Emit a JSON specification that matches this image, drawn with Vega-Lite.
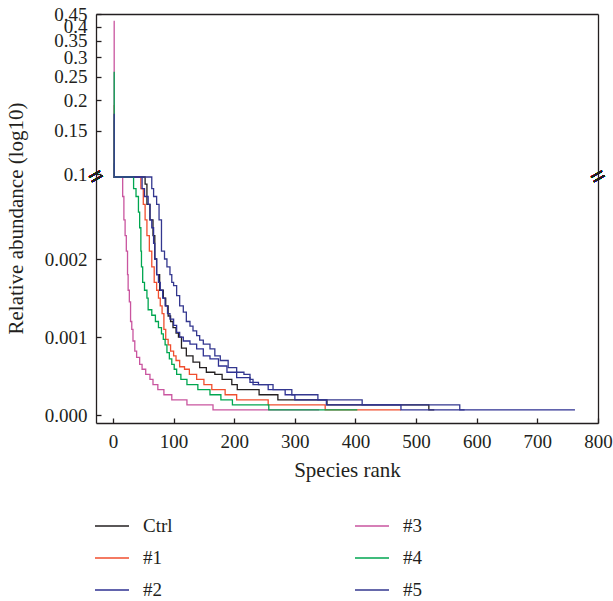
{
  "$schema": "https://vega.github.io/schema/vega-lite/v6.json",
  "background": "white",
  "padding": {"left": 5, "top": 5, "right": 10, "bottom": 5},
  "spacing": 0,
  "bounds": "flush",
  "config": {
    "font": "Liberation Serif",
    "view": {"stroke": null},
    "axis": {"domainColor": "#231f20", "domainWidth": 1.3, "tickColor": "#231f20", "tickWidth": 1.3, "tickSize": -5, "labelPadding": 14, "labelFontSize": 19, "labelColor": "#231f20", "titleFontSize": 21, "titleFontWeight": "normal", "titleColor": "#231f20", "grid": false, "labelFlush": false, "labelOverlap": false},
    "legend": {"orient": "none", "legendX": -2, "legendY": 494, "columns": 2, "columnPadding": 179, "rowPadding": 4, "symbolType": "stroke", "symbolSize": 1156, "symbolStrokeWidth": 1.5, "labelFont": "Liberation Serif", "labelFontSize": 19, "labelColor": "#231f20", "labelOffset": 13, "title": null}
  },
  "datasets": {
    "ra": [
      {"sample":"Ctrl","rank":1,"abundance":0.165},{"sample":"Ctrl","rank":2,"abundance":0.07},{"sample":"Ctrl","rank":5,"abundance":0.03},{"sample":"Ctrl","rank":10,"abundance":0.014},{"sample":"Ctrl","rank":20,"abundance":0.007},{"sample":"Ctrl","rank":35,"abundance":0.0045},{"sample":"Ctrl","rank":53,"abundance":0.00296},{"sample":"Ctrl","rank":56,"abundance":0.0027},{"sample":"Ctrl","rank":61,"abundance":0.0025},{"sample":"Ctrl","rank":66,"abundance":0.0023},{"sample":"Ctrl","rank":69,"abundance":0.002},{"sample":"Ctrl","rank":72,"abundance":0.0018},{"sample":"Ctrl","rank":77,"abundance":0.0016},{"sample":"Ctrl","rank":83,"abundance":0.0015},{"sample":"Ctrl","rank":87,"abundance":0.0014},{"sample":"Ctrl","rank":91,"abundance":0.00127},{"sample":"Ctrl","rank":95,"abundance":0.0012},{"sample":"Ctrl","rank":99,"abundance":0.00112},{"sample":"Ctrl","rank":104,"abundance":0.00105},{"sample":"Ctrl","rank":108,"abundance":0.001},{"sample":"Ctrl","rank":113,"abundance":0.00086},{"sample":"Ctrl","rank":121,"abundance":0.00076},{"sample":"Ctrl","rank":132,"abundance":0.00068},{"sample":"Ctrl","rank":143,"abundance":0.00061},{"sample":"Ctrl","rank":154,"abundance":0.00055},{"sample":"Ctrl","rank":168,"abundance":0.000523},{"sample":"Ctrl","rank":180,"abundance":0.000458},{"sample":"Ctrl","rank":196,"abundance":0.000392},{"sample":"Ctrl","rank":205,"abundance":0.000327},{"sample":"Ctrl","rank":241,"abundance":0.000262},{"sample":"Ctrl","rank":272,"abundance":0.000197},{"sample":"Ctrl","rank":353,"abundance":0.000131},{"sample":"Ctrl","rank":521,"abundance":0.000068},{"sample":"Ctrl","rank":530,"abundance":0.000068},
      {"sample":"#1","rank":1,"abundance":0.19},{"sample":"#1","rank":2,"abundance":0.08},{"sample":"#1","rank":5,"abundance":0.03},{"sample":"#1","rank":10,"abundance":0.015},{"sample":"#1","rank":20,"abundance":0.007},{"sample":"#1","rank":35,"abundance":0.004},{"sample":"#1","rank":46,"abundance":0.0029},{"sample":"#1","rank":50,"abundance":0.0027},{"sample":"#1","rank":53,"abundance":0.0025},{"sample":"#1","rank":56,"abundance":0.0023},{"sample":"#1","rank":60,"abundance":0.0021},{"sample":"#1","rank":64,"abundance":0.0019},{"sample":"#1","rank":68,"abundance":0.0017},{"sample":"#1","rank":72,"abundance":0.0016},{"sample":"#1","rank":75,"abundance":0.0015},{"sample":"#1","rank":78,"abundance":0.0014},{"sample":"#1","rank":81,"abundance":0.0013},{"sample":"#1","rank":84,"abundance":0.0011},{"sample":"#1","rank":87,"abundance":0.00097},{"sample":"#1","rank":91,"abundance":0.0009},{"sample":"#1","rank":95,"abundance":0.00082},{"sample":"#1","rank":100,"abundance":0.00076},{"sample":"#1","rank":104,"abundance":0.0007},{"sample":"#1","rank":110,"abundance":0.00062},{"sample":"#1","rank":118,"abundance":0.000588},{"sample":"#1","rank":126,"abundance":0.000523},{"sample":"#1","rank":138,"abundance":0.000458},{"sample":"#1","rank":150,"abundance":0.000392},{"sample":"#1","rank":163,"abundance":0.000327},{"sample":"#1","rank":185,"abundance":0.000262},{"sample":"#1","rank":204,"abundance":0.000197},{"sample":"#1","rank":256,"abundance":0.000131},{"sample":"#1","rank":350,"abundance":0.000068},{"sample":"#1","rank":475,"abundance":0.000068},
      {"sample":"#2","rank":1,"abundance":0.11},{"sample":"#2","rank":2,"abundance":0.08},{"sample":"#2","rank":5,"abundance":0.035},{"sample":"#2","rank":10,"abundance":0.015},{"sample":"#2","rank":20,"abundance":0.007},{"sample":"#2","rank":35,"abundance":0.0045},{"sample":"#2","rank":48,"abundance":0.0029},{"sample":"#2","rank":52,"abundance":0.0028},{"sample":"#2","rank":58,"abundance":0.0027},{"sample":"#2","rank":61,"abundance":0.0025},{"sample":"#2","rank":64,"abundance":0.0024},{"sample":"#2","rank":67,"abundance":0.0022},{"sample":"#2","rank":69,"abundance":0.002},{"sample":"#2","rank":72,"abundance":0.0018},{"sample":"#2","rank":75,"abundance":0.0017},{"sample":"#2","rank":78,"abundance":0.0016},{"sample":"#2","rank":82,"abundance":0.0015},{"sample":"#2","rank":86,"abundance":0.0014},{"sample":"#2","rank":90,"abundance":0.0013},{"sample":"#2","rank":94,"abundance":0.00123},{"sample":"#2","rank":100,"abundance":0.00115},{"sample":"#2","rank":105,"abundance":0.00106},{"sample":"#2","rank":110,"abundance":0.001},{"sample":"#2","rank":116,"abundance":0.00095},{"sample":"#2","rank":127,"abundance":0.00091},{"sample":"#2","rank":138,"abundance":0.00085},{"sample":"#2","rank":149,"abundance":0.00076},{"sample":"#2","rank":160,"abundance":0.00072},{"sample":"#2","rank":174,"abundance":0.00063},{"sample":"#2","rank":188,"abundance":0.00055},{"sample":"#2","rank":204,"abundance":0.00048},{"sample":"#2","rank":226,"abundance":0.00042},{"sample":"#2","rank":240,"abundance":0.000392},{"sample":"#2","rank":256,"abundance":0.000327},{"sample":"#2","rank":284,"abundance":0.000262},{"sample":"#2","rank":300,"abundance":0.000197},{"sample":"#2","rank":352,"abundance":0.000131},{"sample":"#2","rank":475,"abundance":0.000068},{"sample":"#2","rank":762,"abundance":0.000068},
      {"sample":"#3","rank":1,"abundance":0.42},{"sample":"#3","rank":2,"abundance":0.06},{"sample":"#3","rank":4,"abundance":0.025},{"sample":"#3","rank":8,"abundance":0.009},{"sample":"#3","rank":12,"abundance":0.0045},{"sample":"#3","rank":16,"abundance":0.0028},{"sample":"#3","rank":18,"abundance":0.0025},{"sample":"#3","rank":20,"abundance":0.0023},{"sample":"#3","rank":22,"abundance":0.0021},{"sample":"#3","rank":24,"abundance":0.0018},{"sample":"#3","rank":25,"abundance":0.0016},{"sample":"#3","rank":27,"abundance":0.00145},{"sample":"#3","rank":29,"abundance":0.0012},{"sample":"#3","rank":31,"abundance":0.0011},{"sample":"#3","rank":33,"abundance":0.00095},{"sample":"#3","rank":36,"abundance":0.00082},{"sample":"#3","rank":39,"abundance":0.00074},{"sample":"#3","rank":44,"abundance":0.00065},{"sample":"#3","rank":48,"abundance":0.000588},{"sample":"#3","rank":54,"abundance":0.000523},{"sample":"#3","rank":61,"abundance":0.000458},{"sample":"#3","rank":66,"abundance":0.000392},{"sample":"#3","rank":74,"abundance":0.000327},{"sample":"#3","rank":84,"abundance":0.000262},{"sample":"#3","rank":97,"abundance":0.000197},{"sample":"#3","rank":122,"abundance":0.000131},{"sample":"#3","rank":165,"abundance":0.000068},{"sample":"#3","rank":340,"abundance":0.000068},
      {"sample":"#4","rank":1,"abundance":0.26},{"sample":"#4","rank":2,"abundance":0.07},{"sample":"#4","rank":5,"abundance":0.03},{"sample":"#4","rank":10,"abundance":0.012},{"sample":"#4","rank":20,"abundance":0.006},{"sample":"#4","rank":28,"abundance":0.0042},{"sample":"#4","rank":34,"abundance":0.0029},{"sample":"#4","rank":38,"abundance":0.0028},{"sample":"#4","rank":42,"abundance":0.0026},{"sample":"#4","rank":44,"abundance":0.0024},{"sample":"#4","rank":46,"abundance":0.0021},{"sample":"#4","rank":47,"abundance":0.0019},{"sample":"#4","rank":49,"abundance":0.0017},{"sample":"#4","rank":52,"abundance":0.0016},{"sample":"#4","rank":56,"abundance":0.0015},{"sample":"#4","rank":58,"abundance":0.00135},{"sample":"#4","rank":64,"abundance":0.00128},{"sample":"#4","rank":70,"abundance":0.0012},{"sample":"#4","rank":75,"abundance":0.00112},{"sample":"#4","rank":80,"abundance":0.00104},{"sample":"#4","rank":83,"abundance":0.00097},{"sample":"#4","rank":86,"abundance":0.0009},{"sample":"#4","rank":89,"abundance":0.0008},{"sample":"#4","rank":93,"abundance":0.00072},{"sample":"#4","rank":97,"abundance":0.00065},{"sample":"#4","rank":101,"abundance":0.000588},{"sample":"#4","rank":105,"abundance":0.000523},{"sample":"#4","rank":112,"abundance":0.000458},{"sample":"#4","rank":122,"abundance":0.000392},{"sample":"#4","rank":140,"abundance":0.000327},{"sample":"#4","rank":160,"abundance":0.000262},{"sample":"#4","rank":178,"abundance":0.000197},{"sample":"#4","rank":197,"abundance":0.000131},{"sample":"#4","rank":257,"abundance":0.000068},{"sample":"#4","rank":403,"abundance":0.000068},
      {"sample":"#5","rank":1,"abundance":0.175},{"sample":"#5","rank":2,"abundance":0.09},{"sample":"#5","rank":5,"abundance":0.04},{"sample":"#5","rank":10,"abundance":0.018},{"sample":"#5","rank":20,"abundance":0.008},{"sample":"#5","rank":40,"abundance":0.005},{"sample":"#5","rank":64,"abundance":0.0029},{"sample":"#5","rank":67,"abundance":0.0028},{"sample":"#5","rank":72,"abundance":0.0027},{"sample":"#5","rank":76,"abundance":0.0025},{"sample":"#5","rank":80,"abundance":0.0021},{"sample":"#5","rank":85,"abundance":0.002},{"sample":"#5","rank":89,"abundance":0.0019},{"sample":"#5","rank":94,"abundance":0.0018},{"sample":"#5","rank":97,"abundance":0.0017},{"sample":"#5","rank":100,"abundance":0.00166},{"sample":"#5","rank":105,"abundance":0.00153},{"sample":"#5","rank":110,"abundance":0.0014},{"sample":"#5","rank":116,"abundance":0.00132},{"sample":"#5","rank":121,"abundance":0.0012},{"sample":"#5","rank":127,"abundance":0.00114},{"sample":"#5","rank":132,"abundance":0.00108},{"sample":"#5","rank":138,"abundance":0.00102},{"sample":"#5","rank":143,"abundance":0.00096},{"sample":"#5","rank":149,"abundance":0.00091},{"sample":"#5","rank":160,"abundance":0.00085},{"sample":"#5","rank":168,"abundance":0.00076},{"sample":"#5","rank":177,"abundance":0.0007},{"sample":"#5","rank":190,"abundance":0.00061},{"sample":"#5","rank":204,"abundance":0.00055},{"sample":"#5","rank":216,"abundance":0.000523},{"sample":"#5","rank":226,"abundance":0.000458},{"sample":"#5","rank":231,"abundance":0.000392},{"sample":"#5","rank":264,"abundance":0.000327},{"sample":"#5","rank":295,"abundance":0.000262},{"sample":"#5","rank":338,"abundance":0.000197},{"sample":"#5","rank":411,"abundance":0.000131},{"sample":"#5","rank":572,"abundance":0.000068},{"sample":"#5","rank":580,"abundance":0.000068}
    ]
  },
  "vconcat": [
    {
      "width": 502,
      "height": 163,
      "data": {"name": "ra"},
      "transform": [{"filter": "datum.abundance > 0.003"}],
      "layer": [
        {
          "mark": {"type": "line", "interpolate": "step-after", "strokeWidth": 1.3},
          "encoding": {
            "x": {"field": "rank", "type": "quantitative", "scale": {"domain": [-28, 800], "nice": false, "zero": false}, "axis": {"orient": "top", "labels": false, "ticks": false, "title": null}},
            "y": {"field": "abundance", "type": "quantitative", "scale": {"type": "log", "domain": [0.0973, 0.45], "clamp": true, "nice": false}, "axis": {"values": [0.1, 0.15, 0.2, 0.25, 0.3, 0.35, 0.4, 0.45], "format": ".2~f", "title": null}},
            "color": {"field": "sample", "type": "nominal", "scale": {"domain": ["Ctrl", "#1", "#2", "#3", "#4", "#5"], "range": ["#231f20", "#f04e2e", "#2e3192", "#c9559f", "#00a650", "#33378f"]}},
            "order": {"field": "rank", "type": "quantitative"}
          }
        },
        {
          "mark": {"type": "point", "opacity": 0},
          "encoding": {
            "y": {"field": "abundance", "type": "quantitative", "axis": {"orient": "right", "labels": false, "ticks": false, "title": null}}
          }
        }
      ],
      "resolve": {"axis": {"y": "independent"}}
    },
    {
      "width": 502,
      "height": 246,
      "data": {"name": "ra"},
      "layer": [
        {
          "mark": {"type": "line", "interpolate": "step-after", "strokeWidth": 1.3},
          "encoding": {
            "x": {"field": "rank", "type": "quantitative", "scale": {"domain": [-28, 800], "nice": false, "zero": false}, "axis": {"values": [0, 100, 200, 300, 400, 500, 600, 700, 800], "title": "Species rank", "titlePadding": 8}},
            "y": {"field": "abundance", "type": "quantitative", "scale": {"domain": [-0.0001, 0.00305], "clamp": true, "nice": false, "zero": false}, "axis": {"values": [0, 0.001, 0.002], "format": ".3f", "title": "Relative abundance (log10)", "titleY": 41, "titlePadding": 18}},
            "color": {"field": "sample", "type": "nominal", "scale": {"domain": ["Ctrl", "#1", "#2", "#3", "#4", "#5"], "range": ["#231f20", "#f04e2e", "#2e3192", "#c9559f", "#00a650", "#33378f"]}},
            "order": {"field": "rank", "type": "quantitative"}
          }
        },
        {
          "mark": {"type": "point", "opacity": 0},
          "encoding": {
            "y": {"field": "abundance", "type": "quantitative", "axis": {"orient": "right", "labels": false, "ticks": false, "title": null}}
          }
        },
        {
          "mark": {"type": "text", "text": "=", "fontSize": 26, "angle": -30, "align": "center", "baseline": "middle", "color": "#231f20"},
          "encoding": {
            "x": {"datum": -28},
            "y": {"datum": 0.00305, "axis": null}
          }
        },
        {
          "mark": {"type": "text", "text": "=", "fontSize": 26, "angle": -30, "align": "center", "baseline": "middle", "color": "#231f20"},
          "encoding": {
            "x": {"datum": 800},
            "y": {"datum": 0.00305, "axis": null}
          }
        }
      ],
      "resolve": {"axis": {"y": "independent"}}
    }
  ]
}
